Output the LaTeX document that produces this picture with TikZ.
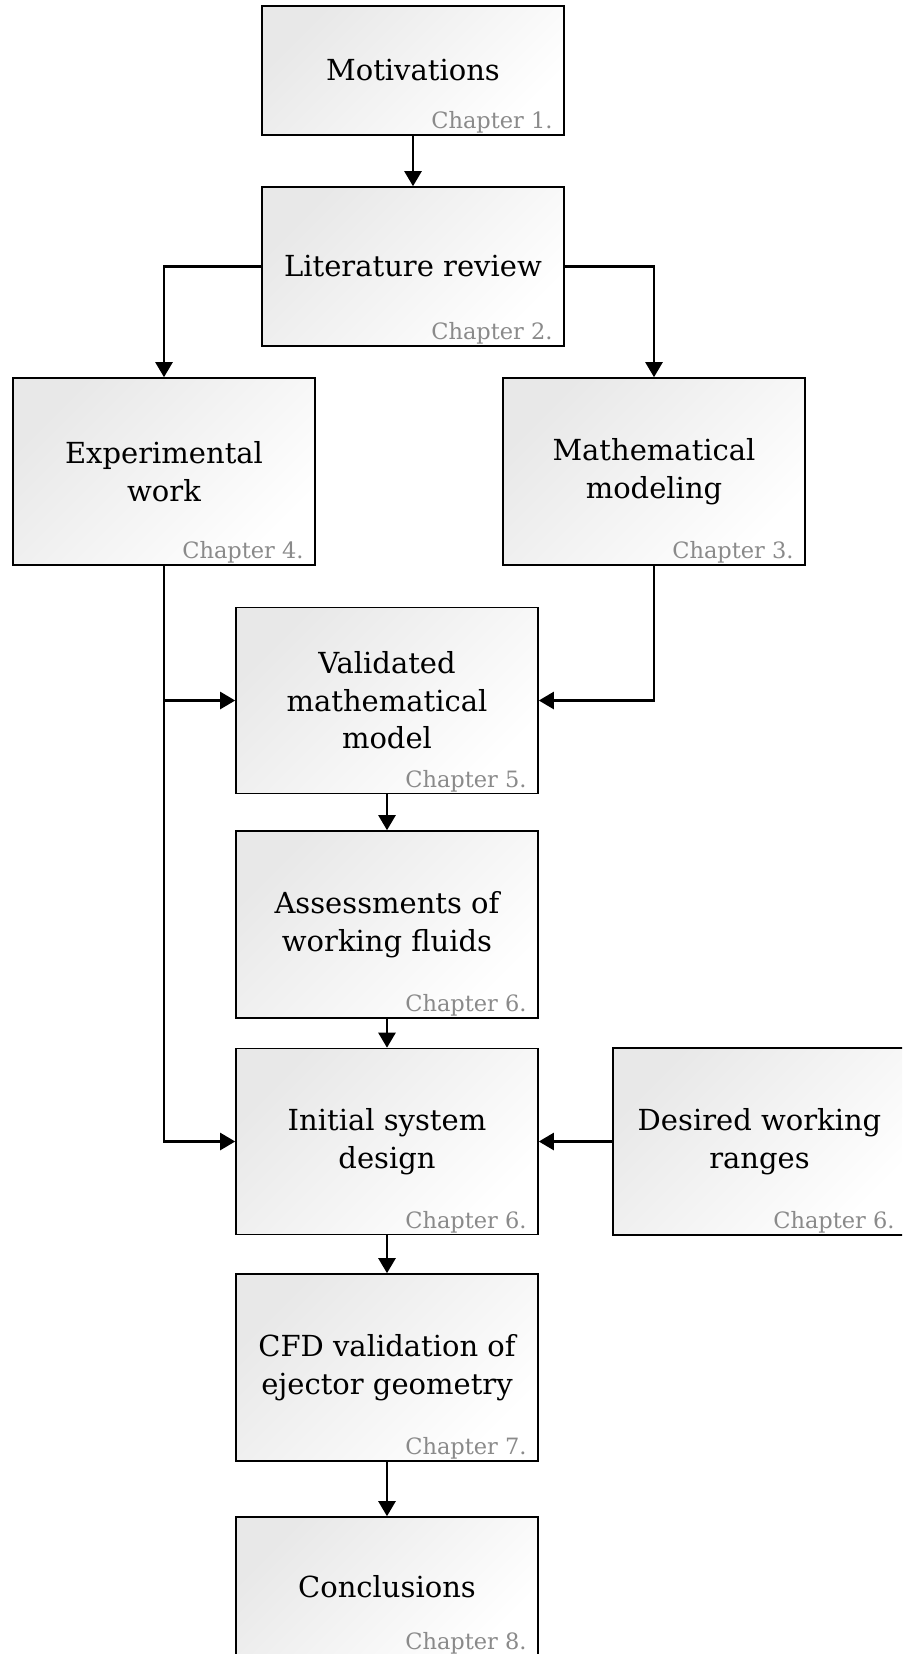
\documentclass[tikz,border=0pt]{standalone}
\usepackage{fontspec}
\setmainfont{DejaVu Serif}
\usetikzlibrary{arrows.meta,calc}
\definecolor{chapgray}{HTML}{8A8A8A}
\tikzset{
  box/.style={draw=black, line width=1.6pt, minimum width=302pt, inner sep=0pt,
    align=center, top color=black!9, bottom color=white, shading angle=45,
    font=\fontsize{29}{37.5}\selectfont},
  chap/.style={text=chapgray, inner sep=0pt, anchor=base east,
    font=\fontsize{22.5}{24}\selectfont},
  conn/.style={line width=2.4pt, -{Triangle[length=15pt,width=17pt]}},
}
\newcommand{\chapterlabel}[2]{\node[chap] (#1c) at ($(#1.south east)+(-12,-7)$) {Chapter #2.};}
\begin{document}
\begin{tikzpicture}[x=1pt,y=-1pt]
\useasboundingbox (0,0) rectangle (902,1654);
\clip (0,0) rectangle (902,1654);
\node[box, minimum height=129pt] (mot) at (413,70.5) {Motivations};
\node[box, minimum height=159pt] (lit) at (413,266.5) {Literature review};
\node[box, minimum height=187pt] (exp) at (164,471.5) {Experimental\\work};
\node[box, minimum height=187pt] (math) at (654,471.5) {Mathematical\\modeling};
\node[box, minimum height=186pt] (val) at (387,700.5) {Validated\\mathematical\\model};
\node[box, minimum height=187pt] (ass) at (387,924.5) {Assessments of\\working fluids};
\node[box, minimum height=186pt] (init) at (387,1141.5) {Initial system\\design};
\node[box, minimum height=187pt, minimum width=293pt] (des) at (759.5,1141.5) {Desired working\\ranges};
\node[box, minimum height=187pt] (cfd) at (387,1367.5) {CFD validation of\\ejector geometry};
\node[box, minimum height=139pt] (conc) at (387,1586.5) {Conclusions};
\chapterlabel{mot}{1}
\chapterlabel{lit}{2}
\chapterlabel{exp}{4}
\chapterlabel{math}{3}
\chapterlabel{val}{5}
\chapterlabel{ass}{6}
\chapterlabel{init}{6}
\chapterlabel{des}{6}
\chapterlabel{cfd}{7}
\chapterlabel{conc}{8}
\draw[conn] (mot.south) -- (lit.north);
\draw[conn] (lit.west) -| (exp.north);
\draw[conn] (lit.east) -| (math.north);
\draw[conn] (exp.south) |- (init.west);
\draw[conn] (exp.south |- val.west) -- (val.west);
\draw[conn] (math.south) |- (val.east);
\draw[conn] (val.south) -- (ass.north);
\draw[conn] (ass.south) -- (init.north);
\draw[conn] (des.west) -- (init.east);
\draw[conn] (init.south) -- (cfd.north);
\draw[conn] (cfd.south) -- (conc.north);
\end{tikzpicture}
\end{document}
